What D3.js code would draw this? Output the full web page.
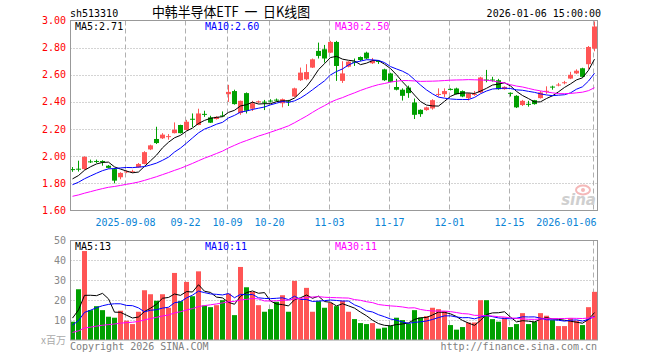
<!DOCTYPE html>
<html><head><meta charset="utf-8">
<script src="https://cdn.jsdelivr.net/npm/d3@7/dist/d3.min.js"></script>
<style>body{margin:0;background:#fff}svg{display:block}</style>
</head><body>
<svg id="c" width="660" height="360"></svg>
<script>
const dates = [
"2025-08-26","2025-08-27","2025-08-28","2025-08-29",
"2025-09-01","2025-09-02","2025-09-03","2025-09-04","2025-09-05","2025-09-08","2025-09-09","2025-09-10","2025-09-11","2025-09-12",
"2025-09-15","2025-09-16","2025-09-17","2025-09-18","2025-09-19","2025-09-22","2025-09-23","2025-09-24","2025-09-25","2025-09-26","2025-09-29","2025-09-30",
"2025-10-09","2025-10-10","2025-10-13","2025-10-14","2025-10-15","2025-10-16","2025-10-17","2025-10-20","2025-10-21","2025-10-22","2025-10-23","2025-10-24",
"2025-10-27","2025-10-28","2025-10-29","2025-10-30","2025-10-31",
"2025-11-03","2025-11-04","2025-11-05","2025-11-06","2025-11-07","2025-11-10","2025-11-11","2025-11-12","2025-11-13","2025-11-14",
"2025-11-17","2025-11-18","2025-11-19","2025-11-20","2025-11-21","2025-11-24","2025-11-25","2025-11-26","2025-11-27","2025-11-28",
"2025-12-01","2025-12-02","2025-12-03","2025-12-04","2025-12-05","2025-12-08","2025-12-09","2025-12-10","2025-12-11","2025-12-12",
"2025-12-15","2025-12-16","2025-12-17","2025-12-18","2025-12-19","2025-12-22","2025-12-23","2025-12-24","2025-12-25","2025-12-26",
"2025-12-29","2025-12-30","2025-12-31","2026-01-05","2026-01-06"];

const open = [1.905,1.908,1.905,1.962,1.965,1.965,1.930,1.905,1.845,1.885,
1.885,1.918,1.943,2.050,2.127,2.132,2.144,2.170,2.230,2.193,
2.276,2.230,2.312,2.286,2.274,2.300,2.457,2.480,2.318,2.465,
2.350,2.400,2.402,2.410,2.417,2.390,2.410,2.440,2.560,2.567,
2.653,2.776,2.788,2.763,2.842,2.555,2.660,2.697,2.731,2.763,
2.685,2.702,2.640,2.610,2.510,2.490,2.506,2.396,2.342,2.340,
2.352,2.455,2.457,2.496,2.499,2.480,2.428,2.455,2.470,2.565,
2.565,2.560,2.494,2.467,2.445,2.377,2.386,2.413,2.428,2.478,
2.513,2.524,2.541,2.572,2.610,2.648,2.678,2.793];
const high = [1.920,1.967,2.000,1.975,1.975,1.970,1.935,1.912,1.882,1.895,
1.900,1.950,2.037,2.085,2.217,2.170,2.163,2.249,2.232,2.268,
2.315,2.350,2.335,2.298,2.295,2.330,2.526,2.490,2.410,2.470,
2.408,2.410,2.415,2.420,2.425,2.425,2.415,2.505,2.653,2.678,
2.720,2.837,2.820,2.850,2.850,2.700,2.700,2.720,2.735,2.770,
2.724,2.705,2.645,2.615,2.570,2.500,2.520,2.425,2.345,2.365,
2.420,2.500,2.500,2.500,2.505,2.485,2.465,2.480,2.585,2.636,
2.585,2.570,2.515,2.470,2.450,2.415,2.408,2.415,2.480,2.515,
2.520,2.540,2.555,2.622,2.640,2.652,2.812,2.993];
const low = [1.885,1.887,1.900,1.950,1.950,1.930,1.910,1.800,1.830,1.875,
1.880,1.915,1.940,2.045,2.090,2.127,2.122,2.168,2.168,2.190,
2.215,2.228,2.290,2.245,2.270,2.290,2.400,2.380,2.305,2.315,
2.333,2.390,2.340,2.395,2.405,2.360,2.370,2.435,2.555,2.560,
2.650,2.720,2.690,2.760,2.555,2.540,2.655,2.665,2.700,2.715,
2.680,2.680,2.555,2.545,2.485,2.410,2.430,2.274,2.290,2.335,
2.343,2.440,2.435,2.485,2.455,2.435,2.410,2.445,2.465,2.545,
2.550,2.490,2.490,2.440,2.355,2.370,2.365,2.380,2.425,2.460,
2.490,2.515,2.530,2.568,2.605,2.580,2.643,2.773];
const close = [1.900,1.903,1.995,1.958,1.960,1.955,1.914,1.820,1.877,1.888,
1.889,1.943,2.030,2.080,2.097,2.159,2.148,2.195,2.170,2.254,
2.272,2.315,2.308,2.247,2.290,2.296,2.474,2.384,2.408,2.335,
2.390,2.405,2.398,2.405,2.413,2.420,2.405,2.500,2.616,2.620,
2.714,2.739,2.720,2.842,2.665,2.610,2.697,2.693,2.709,2.720,
2.704,2.698,2.560,2.548,2.490,2.445,2.465,2.305,2.310,2.360,
2.413,2.459,2.480,2.492,2.457,2.440,2.462,2.459,2.580,2.561,
2.561,2.494,2.511,2.463,2.360,2.408,2.382,2.384,2.470,2.482,
2.509,2.528,2.545,2.600,2.630,2.585,2.805,2.956];
const volume = [9.2,25.5,44.7,15,17,15,11.7,11.2,14.7,9.7,
8,14.2,25,23,19.7,23,16.2,33.7,19.5,29.2,
22,34.5,17.3,16.5,17.5,20,23.3,12.5,36.7,26.5,
24.2,17.5,14.2,15.5,19.2,22.5,14.2,29.7,20.5,26.2,
14.2,19.5,16.2,18.7,17,19.7,14.2,10.5,8.5,8,
8.5,5.7,6.2,7.2,11.2,10,8.3,15,11.3,12,
16.2,15.5,14.5,7.5,5.2,6.5,8.8,8.8,20,20,
10.5,9.2,11.3,6.5,8,13.5,8,9.2,13.5,12.2,
10,7,7,11,9.7,7.5,16.5,24.2];
// sessions before the first drawn candle (only feed the moving averages)
const priorCloses = [1.60,1.61,1.62,1.61,1.63,1.62,1.64,1.65,1.64,1.66,
1.67,1.66,1.68,1.69,1.70,1.69,1.71,1.72,1.71,1.73,
1.72,1.74,1.75,1.76,1.765,1.78,1.80,1.83,1.855];
const priorVolumes = [1.5,1.8,2.0,1.6,1.9,2.2,1.7,2.1,1.8,2.0,
2.3,1.9,2.1,1.8,2.2,2.0,1.9,2.1,2.3,1.8,
3,3.5,4,4.5,5,5,8,14.8,18];

const priceTicks = [3.00,2.80,2.60,2.40,2.20,2.00,1.80,1.60];
const volTicks = [50,40,30,20,10];
const tickDates = ["2025-09-08","2025-09-22","2025-10-09","2025-10-20","2025-11-03","2025-11-17","2025-12-01","2025-12-15","2026-01-06"];
const tickLabels = ["2025-09-08","09-22","10-09","10-20","11-03","11-17","12-01","12-15","2026-01-06"];
const maPeriods = [5,10,30];
const maColors = ["#000000","#0000ff","#ff00ff"];
const priceMaLegend = ["2.71","2.60","2.50"];
const volMaLegend = ["13","11","11"];

const RED = "#ff5555", GREEN = "#00a000";
const MONO = "'DejaVu Sans Mono', 'Liberation Mono', monospace";

const svg = d3.select("#c");
const L = 70.5, R = 597.5;
const pTop = 20.5, pBot = 210.5, vTop = 240.5, vBot = 340;

const x = d3.scaleBand().domain(dates).range([69.5, 597.5]).paddingInner(0).paddingOuter(0);
const cx = d => x(d) + x.bandwidth() / 2;
const y = d3.scaleLinear().domain([1.6, 3.0]).range([pBot, pTop]);
const yv = d3.scaleLinear().domain([0, 50]).range([vBot, vTop]);

function ma(all, n, offset) {
  return dates.map((d, i) => {
    const k = i + offset;
    return d3.mean(all.slice(k - n + 1, k + 1));
  });
}
const allC = priorCloses.concat(close);
const allV = priorVolumes.concat(volume);

// grids
function grid(g, yScale, ticks, top, bot) {
  g.selectAll("line.h").data(ticks).join("line")
    .attr("x1", L).attr("x2", R)
    .attr("y1", d => Math.round(yScale(d)) + 0.5).attr("y2", d => Math.round(yScale(d)) + 0.5)
    .attr("stroke", "#a8a8a8").attr("stroke-dasharray", "1,2");
  g.selectAll("line.v").data(tickDates).join("line")
    .attr("x1", d => cx(d) - 1).attr("x2", d => cx(d) - 1)
    .attr("y1", top).attr("y2", bot)
    .attr("stroke", "#b0b0b0").attr("stroke-dasharray", "5,3");
}
const gp = svg.append("g"); grid(gp, y, priceTicks.filter(t => t > 1.6 && t < 3.0), pTop, pBot);
const gv = svg.append("g"); grid(gv, yv, volTicks.filter(t => t < 50), vTop, vBot);

// watermark
const wm = svg.append("g");
wm.append("ellipse").attr("cx", 583).attr("cy", 190).attr("rx", 7).attr("ry", 4.5)
  .attr("fill", "none").attr("stroke", "#f4b8b8").attr("stroke-width", 2);
wm.append("circle").attr("cx", 583).attr("cy", 190).attr("r", 2).attr("fill", "#f4b8b8");
wm.append("text").attr("x", 596).attr("y", 205).attr("text-anchor", "end")
  .attr("font-family", "'DejaVu Sans', sans-serif").attr("font-size", 15).attr("font-style", "italic")
  .attr("font-weight", "bold").attr("fill", "#cfcfcf").text("sina");

// candles
const cg = svg.append("g");
dates.forEach((d, i) => {
  const up = close[i] >= open[i];
  const col = up ? RED : GREEN;
  const c = cx(d);
  cg.append("line").attr("x1", c).attr("x2", c)
    .attr("y1", y(high[i])).attr("y2", y(low[i])).attr("stroke", col).attr("stroke-width", 1);
  const yt = y(Math.max(open[i], close[i])), yb = y(Math.min(open[i], close[i]));
  cg.append("rect").attr("x", c - 2.5).attr("width", 5)
    .attr("y", yt).attr("height", Math.max(1, yb - yt)).attr("fill", col);
  svg.append("rect").attr("x", c - 2.5).attr("width", 5)
    .attr("y", yv(volume[i])).attr("height", vBot - yv(volume[i])).attr("fill", col);
});

// moving averages
maPeriods.forEach((n, k) => {
  const pm = ma(allC, n, priorCloses.length);
  svg.append("path").attr("d", d3.line().x((v, i) => cx(dates[i])).y(v => y(v))(pm))
    .attr("fill", "none").attr("stroke", maColors[k]).attr("stroke-width", 1);
  const vm = ma(allV, n, priorVolumes.length);
  svg.append("path").attr("d", d3.line().x((v, i) => cx(dates[i])).y(v => yv(v))(vm))
    .attr("fill", "none").attr("stroke", maColors[k]).attr("stroke-width", 1);
});

// frames
svg.append("rect").attr("x", L).attr("y", pTop).attr("width", R - L).attr("height", pBot - pTop)
  .attr("fill", "none").attr("stroke", "#999");
svg.append("rect").attr("x", L).attr("y", vTop).attr("width", R - L).attr("height", vBot - vTop)
  .attr("fill", "none").attr("stroke", "#999");

const txt = (xx, yy, s, col, anchor, size, fam) => svg.append("text").attr("x", xx).attr("y", yy)
  .attr("fill", col).attr("font-family", fam || MONO).attr("font-size", size || 10)
  .attr("text-anchor", anchor || "start").text(s);

// axis labels
priceTicks.forEach(t => txt(66, y(t) + 3.5, t.toFixed(2), "#ff0000", "end"));
volTicks.forEach(t => txt(66, yv(t) + 3.5, String(t), "#888", "end"));
txt(66, 344, "x百万", "#aaa", "end", 10, "'Noto Sans CJK SC', " + MONO);
tickDates.forEach((d, i) => {
  const t = txt(cx(d) - 1, 226, tickLabels[i], "#0a84d6", "middle");
  const w = t.node().getComputedTextLength();
  if (cx(d) - 1 + w / 2 > R) t.attr("text-anchor", "end").attr("x", R - 1);
});

// legends
const lx = [75, 205, 335];
maPeriods.forEach((n, k) => {
  txt(lx[k], 30, "MA" + n + ":" + priceMaLegend[k], maColors[k]);
  txt(lx[k], 249.5, "MA" + n + ":" + volMaLegend[k], maColors[k]);
});

// header
txt(70, 17, "sh513310", "#000");
txt(152, 17, "中韩半导体ETF  一  日K线图", "#000", "start", 14, "'Noto Sans CJK SC', sans-serif")
  .attr("xml:space", "preserve").style("white-space", "pre")
  .attr("textLength", 158).attr("lengthAdjust", "spacingAndGlyphs");
txt(601, 17, "2026-01-06 15:00:00", "#000", "end");
// footer
txt(70, 350, "Copyright 2026 SINA.COM", "#808080");
txt(597, 350, "http://finance.sina.com.cn", "#808080", "end");
</script>
</body></html>
